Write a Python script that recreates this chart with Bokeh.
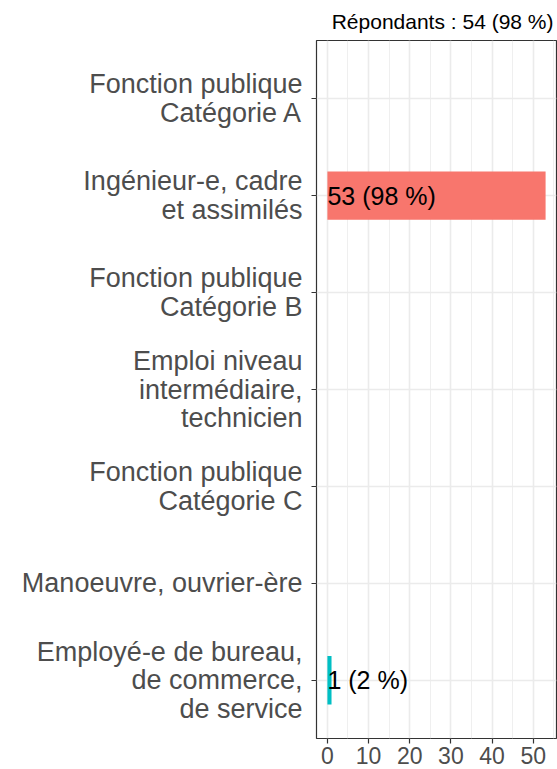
from bokeh.plotting import figure
from bokeh.models import FactorRange, Range1d, FixedTicker, ColumnDataSource
from bokeh.core.properties import value
from bokeh.embed import file_html
from bokeh.resources import INLINE

# Categories, top to bottom
categories = [
    "Fonction publique\nCatégorie A",
    "Ingénieur-e, cadre\net assimilés",
    "Fonction publique\nCatégorie B",
    "Emploi niveau\nintermédiaire,\ntechnicien",
    "Fonction publique\nCatégorie C",
    "Manoeuvre, ouvrier-ère",
    "Employé-e de bureau,\nde commerce,\nde service",
]
bar_categories = ["Ingénieur-e, cadre\net assimilés",
                  "Employé-e de bureau,\nde commerce,\nde service"]
bar_counts = [53, 1]
bar_labels = ["53 (98 %)", "1 (2 %)"]
bar_colors = ["#F8766D", "#00BFC4"]
x_ticks = [0, 10, 20, 30, 40, 50]
minor_ticks = [5, 15, 25, 35, 45, 55]
title_text = "Répondants : 54 (98 %)"

FONT = "Liberation Sans"

factors = list(reversed(categories))
p = figure(
    width=557, height=769,
    y_range=FactorRange(factors=factors, range_padding=0.1, range_padding_units="absolute"),
    x_range=Range1d(-2.65, 55.65),
    output_backend="svg", toolbar_location=None,
    min_border_left=316, min_border_right=1, min_border_top=40, min_border_bottom=31,
)
p.background_fill_color = "white"
p.border_fill_color = "white"
p.outline_line_color = "#333333"
p.outline_line_width = 1.2

p.title.text = title_text
p.title.align = "right"
p.title.text_font = FONT
p.title.text_font_size = "21px"
p.title.text_font_style = "normal"
p.title.text_color = "black"
p.title.standoff = 15
p.title.offset = 3

# grids
p.xgrid.ticker = FixedTicker(ticks=x_ticks, minor_ticks=minor_ticks)
p.xgrid.grid_line_color = "#EBEBEB"
p.xgrid.grid_line_width = 1.6
p.xgrid.minor_grid_line_color = "#EBEBEB"
p.xgrid.minor_grid_line_width = 0.8
p.ygrid.grid_line_color = "#EBEBEB"
p.ygrid.grid_line_width = 1.6

src = ColumnDataSource(dict(cat=bar_categories, n=bar_counts, lab=bar_labels, col=bar_colors))
p.hbar(y="cat", left=0, right="n", height=0.5, fill_color="col", line_color=None, source=src)
p.text(x=0, y="cat", text="lab", source=src, text_align="left", text_baseline="middle",
       x_offset=0, text_font=value(FONT), text_font_size="25px", text_color="black")

# axes
p.xaxis.ticker = FixedTicker(ticks=x_ticks)
for ax in (p.xaxis[0], p.yaxis[0]):
    ax.axis_line_color = None
    ax.major_tick_line_color = "#333333"
    ax.major_tick_line_width = 1.2
    ax.major_tick_in = 0
    ax.major_tick_out = 5
    ax.minor_tick_line_color = None
    ax.major_label_text_font = FONT
    ax.major_label_text_color = "#4D4D4D"
p.xaxis.major_label_text_font_size = "23px"
p.xaxis.major_label_standoff = 3
p.yaxis.major_label_text_font_size = "27px"
p.yaxis.major_label_text_line_height = 0.95
p.yaxis.major_label_standoff = 9

open("out.html", "w").write(file_html(p, INLINE))
